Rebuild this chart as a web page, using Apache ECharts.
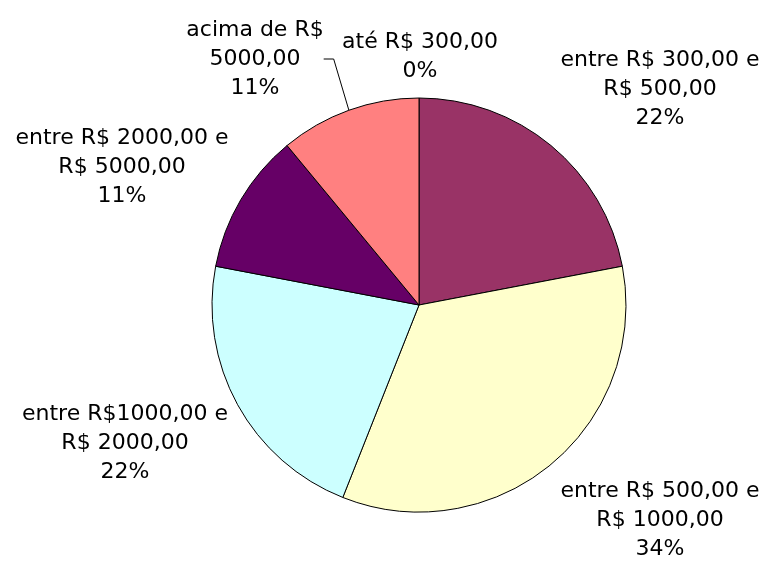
<!DOCTYPE html>
<html>
<head>
<meta charset="utf-8">
<script src="https://cdn.jsdelivr.net/npm/echarts@6/dist/echarts.min.js"></script>
<style>
  html, body { margin: 0; padding: 0; background: #fff; }
  #chart { width: 768px; height: 562px; }
</style>
</head>
<body>
<div id="chart"></div>
<script>
// faixas de renda e valores (%)
const faixas = [
  'até R$ 300,00',
  'entre R$ 300,00 e\nR$ 500,00',
  'entre R$ 500,00 e\nR$ 1000,00',
  'entre R$1000,00 e\nR$ 2000,00',
  'entre R$ 2000,00 e\nR$ 5000,00',
  'acima de R$\n5000,00'
]
const valores = [0, 22, 34, 22, 11, 11]
const cores = ['#333399', '#993366', '#FFFFCC', '#CCFFFF', '#660066', '#FF8080']

// onde fica o centro de cada rótulo (px)
const posRotulos = [[420, 57], [660, 89], [660, 520], [125, 443], [122, 167], [255, 59]]

const chart = echarts.init(document.getElementById('chart'))

chart.setOption({
  animation: false,
  series: [{
    type: 'pie',
    center: [419, 305],
    radius: 207,
    startAngle: 90,
    clockwise: true,
    avoidLabelOverlap: false,
    silent: true,
    data: faixas.map((nome, i) => ({
      name: nome,
      value: valores[i],
      itemStyle: { color: cores[i] },
      labelLine: { show: i === 5 }
    })),
    itemStyle: { borderColor: '#000', borderWidth: 1 },
    label: {
      show: true,
      position: 'outside',
      formatter: '{b}\n{d}%',
      fontFamily: 'DejaVu Sans',
      fontSize: 22,
      lineHeight: 29,
      color: '#000',
      align: 'center'
    },
    labelLine: {
      lineStyle: { color: '#000', width: 1 },
      length: 10,
      length2: 10
    },
    labelLayout: (p) => ({
      x: posRotulos[p.dataIndex][0],
      y: posRotulos[p.dataIndex][1],
      align: 'center',
      verticalAlign: 'middle'
    })
  }]
})
</script>
</body>
</html>
